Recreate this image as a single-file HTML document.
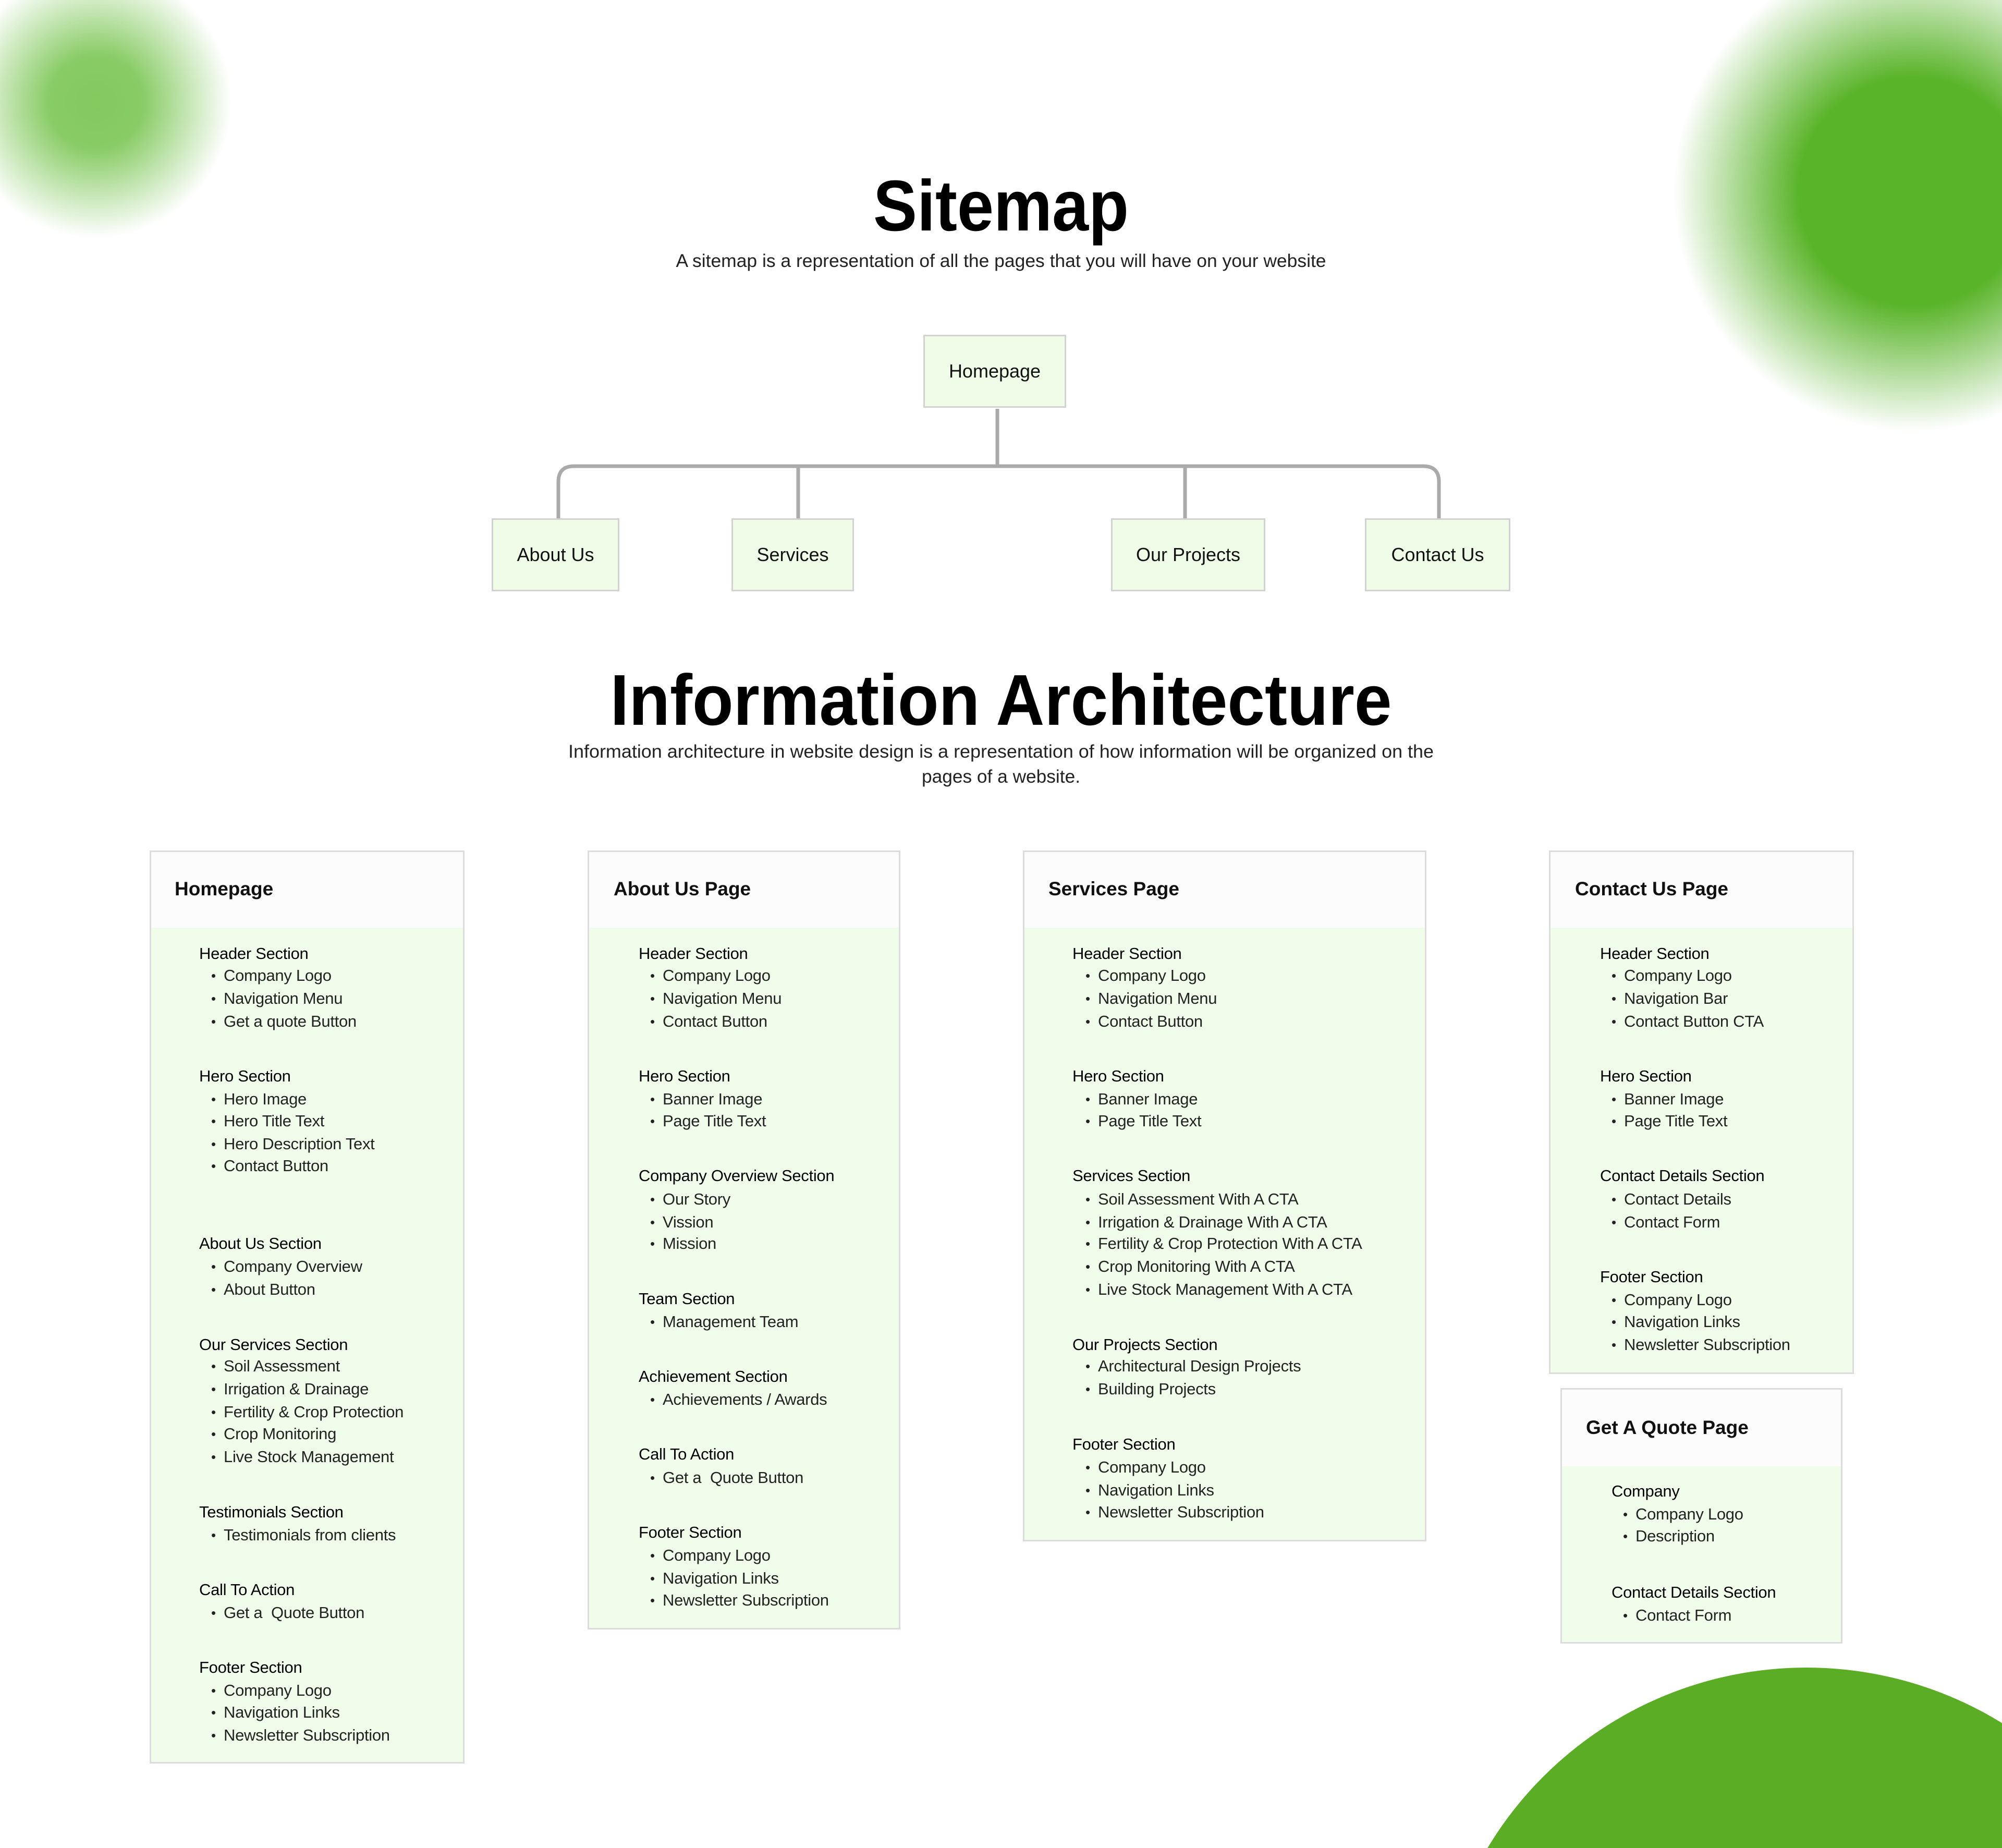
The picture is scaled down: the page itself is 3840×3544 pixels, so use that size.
<!DOCTYPE html>
<html><head><meta charset="utf-8"><style>
*{margin:0;padding:0;box-sizing:border-box}
html,body{width:3840px;height:3544px;overflow:hidden;background:#fff}
#w{width:3840px;height:3544px;position:relative;overflow:hidden;background:#fff;font-family:"Liberation Sans",sans-serif;color:#111}
.a{position:absolute}
.card{position:absolute;border:3px solid #dcdcdc;background:#effdea}
.card .hd{position:absolute;left:0;right:0;top:0;height:145px;background:#fcfcfc}
.tt{position:absolute;font-weight:bold;font-size:37px;line-height:44px;margin-top:-22px;white-space:nowrap}
.l{position:absolute;font-size:31px;line-height:42px;margin-top:-21px;white-space:nowrap;letter-spacing:-0.3px}
.h{color:#000}
.i{color:#222}
.i::before{content:"•";position:absolute;left:-24px;font-size:26px}
.box{position:absolute;background:#effde8;border:3px solid #d2d2d2;display:flex;align-items:center;justify-content:center;font-size:36px;color:#111}
</style></head><body><div id="w">
<div class="a" style="left:0;top:0;width:480px;height:480px;background:radial-gradient(circle at 184px 196px,rgba(124,198,85,.95) 0,rgba(124,198,85,.9) 90px,rgba(124,198,85,0) 260px)"></div>
<div class="a" style="left:3100px;top:0;width:740px;height:900px;background:radial-gradient(circle at 570px 367px,#5ab42a 0,#5ab42a 220px,rgba(90,180,42,0) 460px)"></div>
<svg class="a" style="left:0;top:0" width="3840" height="3544"><circle cx="3465" cy="3912" r="714" fill="#5aad25"/></svg>

<svg class="a" style="left:0;top:0" width="3840" height="1600">
<text x="1920" y="442" text-anchor="middle" font-family="Liberation Sans" font-weight="bold" font-size="138" textLength="490" lengthAdjust="spacingAndGlyphs" fill="#000">Sitemap</text>
<text x="1920" y="512" text-anchor="middle" font-family="Liberation Sans" font-size="35" textLength="1247" lengthAdjust="spacingAndGlyphs" fill="#222">A sitemap is a representation of all the pages that you will have on your website</text>
<text x="1920" y="1390" text-anchor="middle" font-family="Liberation Sans" font-weight="bold" font-size="138" textLength="1499" lengthAdjust="spacingAndGlyphs" fill="#000">Information Architecture</text>
<text x="1920" y="1453" text-anchor="middle" font-family="Liberation Sans" font-size="35" textLength="1660" lengthAdjust="spacingAndGlyphs" fill="#222">Information architecture in website design is a representation of how information will be organized on the</text>
<text x="1920" y="1501" text-anchor="middle" font-family="Liberation Sans" font-size="35" textLength="304" lengthAdjust="spacingAndGlyphs" fill="#222">pages of a website.</text>
<g stroke="#aaaaaa" stroke-width="7" fill="none">
<path d="M1913 784 V894"/>
<path d="M1071 994 V924 Q1071 894 1101 894 H2730 Q2760 894 2760 924 V994"/>
<path d="M1531 894 V994"/>
<path d="M2273 894 V994"/>
</g>
</svg>

<div class="box" style="left:1771px;top:642px;width:274px;height:140px">Homepage</div>
<div class="box" style="left:943px;top:994px;width:245px;height:140px">About Us</div>
<div class="box" style="left:1403px;top:994px;width:235px;height:140px">Services</div>
<div class="box" style="left:2131px;top:994px;width:296px;height:140px">Our Projects</div>
<div class="box" style="left:2618px;top:994px;width:279px;height:140px">Contact Us</div>

<div class="card" style="left:287px;top:1631px;width:604px;height:1751px"><div class="hd"></div></div>
<div class="card" style="left:1127px;top:1631px;width:600px;height:1494px"><div class="hd"></div></div>
<div class="card" style="left:1962px;top:1631px;width:774px;height:1325px"><div class="hd"></div></div>
<div class="card" style="left:2971px;top:1631px;width:585px;height:1004px"><div class="hd"></div></div>
<div class="card" style="left:2993px;top:2662px;width:541px;height:490px"><div class="hd" style="height:147px"></div></div>

<div class="tt" style="left:335px;top:1705px">Homepage</div>
<div class="tt" style="left:1177px;top:1705px">About Us Page</div>
<div class="tt" style="left:2011px;top:1705px">Services Page</div>
<div class="tt" style="left:3021px;top:1705px">Contact Us Page</div>
<div class="tt" style="left:3042px;top:2738px">Get A Quote Page</div>

<div class="l h" style="left:382px;top:1829px">Header Section</div>
<div class="l i" style="left:429px;top:1871px">Company Logo</div>
<div class="l i" style="left:429px;top:1915px">Navigation Menu</div>
<div class="l i" style="left:429px;top:1959px">Get a quote Button</div>
<div class="l h" style="left:382px;top:2064px">Hero Section</div>
<div class="l i" style="left:429px;top:2108px">Hero Image</div>
<div class="l i" style="left:429px;top:2150px">Hero Title Text</div>
<div class="l i" style="left:429px;top:2194px">Hero Description Text</div>
<div class="l i" style="left:429px;top:2236px">Contact Button</div>
<div class="l h" style="left:382px;top:2385px">About Us Section</div>
<div class="l i" style="left:429px;top:2429px">Company Overview</div>
<div class="l i" style="left:429px;top:2473px">About Button</div>
<div class="l h" style="left:382px;top:2579px">Our Services Section</div>
<div class="l i" style="left:429px;top:2620px">Soil Assessment</div>
<div class="l i" style="left:429px;top:2664px">Irrigation &amp; Drainage</div>
<div class="l i" style="left:429px;top:2708px">Fertility &amp; Crop Protection</div>
<div class="l i" style="left:429px;top:2750px">Crop Monitoring</div>
<div class="l i" style="left:429px;top:2794px">Live Stock Management</div>
<div class="l h" style="left:382px;top:2900px">Testimonials Section</div>
<div class="l i" style="left:429px;top:2944px">Testimonials from clients</div>
<div class="l h" style="left:382px;top:3049px">Call To Action</div>
<div class="l i" style="left:429px;top:3093px">Get a &nbsp;Quote Button</div>
<div class="l h" style="left:382px;top:3198px">Footer Section</div>
<div class="l i" style="left:429px;top:3242px">Company Logo</div>
<div class="l i" style="left:429px;top:3284px">Navigation Links</div>
<div class="l i" style="left:429px;top:3328px">Newsletter Subscription</div>

<div class="l h" style="left:1225px;top:1829px">Header Section</div>
<div class="l i" style="left:1271px;top:1871px">Company Logo</div>
<div class="l i" style="left:1271px;top:1915px">Navigation Menu</div>
<div class="l i" style="left:1271px;top:1959px">Contact Button</div>
<div class="l h" style="left:1225px;top:2064px">Hero Section</div>
<div class="l i" style="left:1271px;top:2108px">Banner Image</div>
<div class="l i" style="left:1271px;top:2150px">Page Title Text</div>
<div class="l h" style="left:1225px;top:2255px">Company Overview Section</div>
<div class="l i" style="left:1271px;top:2300px">Our Story</div>
<div class="l i" style="left:1271px;top:2344px">Vission</div>
<div class="l i" style="left:1271px;top:2385px">Mission</div>
<div class="l h" style="left:1225px;top:2491px">Team Section</div>
<div class="l i" style="left:1271px;top:2535px">Management Team</div>
<div class="l h" style="left:1225px;top:2640px">Achievement Section</div>
<div class="l i" style="left:1271px;top:2684px">Achievements / Awards</div>
<div class="l h" style="left:1225px;top:2789px">Call To Action</div>
<div class="l i" style="left:1271px;top:2834px">Get a &nbsp;Quote Button</div>
<div class="l h" style="left:1225px;top:2939px">Footer Section</div>
<div class="l i" style="left:1271px;top:2983px">Company Logo</div>
<div class="l i" style="left:1271px;top:3027px">Navigation Links</div>
<div class="l i" style="left:1271px;top:3069px">Newsletter Subscription</div>

<div class="l h" style="left:2057px;top:1829px">Header Section</div>
<div class="l i" style="left:2106px;top:1871px">Company Logo</div>
<div class="l i" style="left:2106px;top:1915px">Navigation Menu</div>
<div class="l i" style="left:2106px;top:1959px">Contact Button</div>
<div class="l h" style="left:2057px;top:2064px">Hero Section</div>
<div class="l i" style="left:2106px;top:2108px">Banner Image</div>
<div class="l i" style="left:2106px;top:2150px">Page Title Text</div>
<div class="l h" style="left:2057px;top:2255px">Services Section</div>
<div class="l i" style="left:2106px;top:2300px">Soil Assessment With A CTA</div>
<div class="l i" style="left:2106px;top:2344px">Irrigation &amp; Drainage With A CTA</div>
<div class="l i" style="left:2106px;top:2385px">Fertility &amp; Crop Protection With A CTA</div>
<div class="l i" style="left:2106px;top:2429px">Crop Monitoring With A CTA</div>
<div class="l i" style="left:2106px;top:2473px">Live Stock Management With A CTA</div>
<div class="l h" style="left:2057px;top:2579px">Our Projects Section</div>
<div class="l i" style="left:2106px;top:2620px">Architectural Design Projects</div>
<div class="l i" style="left:2106px;top:2664px">Building Projects</div>
<div class="l h" style="left:2057px;top:2770px">Footer Section</div>
<div class="l i" style="left:2106px;top:2814px">Company Logo</div>
<div class="l i" style="left:2106px;top:2858px">Navigation Links</div>
<div class="l i" style="left:2106px;top:2900px">Newsletter Subscription</div>

<div class="l h" style="left:3069px;top:1829px">Header Section</div>
<div class="l i" style="left:3115px;top:1871px">Company Logo</div>
<div class="l i" style="left:3115px;top:1915px">Navigation Bar</div>
<div class="l i" style="left:3115px;top:1959px">Contact Button CTA</div>
<div class="l h" style="left:3069px;top:2064px">Hero Section</div>
<div class="l i" style="left:3115px;top:2108px">Banner Image</div>
<div class="l i" style="left:3115px;top:2150px">Page Title Text</div>
<div class="l h" style="left:3069px;top:2255px">Contact Details Section</div>
<div class="l i" style="left:3115px;top:2300px">Contact Details</div>
<div class="l i" style="left:3115px;top:2344px">Contact Form</div>
<div class="l h" style="left:3069px;top:2449px">Footer Section</div>
<div class="l i" style="left:3115px;top:2493px">Company Logo</div>
<div class="l i" style="left:3115px;top:2535px">Navigation Links</div>
<div class="l i" style="left:3115px;top:2579px">Newsletter Subscription</div>

<div class="l h" style="left:3091px;top:2860px">Company</div>
<div class="l i" style="left:3137px;top:2904px">Company Logo</div>
<div class="l i" style="left:3137px;top:2946px">Description</div>
<div class="l h" style="left:3091px;top:3054px">Contact Details Section</div>
<div class="l i" style="left:3137px;top:3098px">Contact Form</div>
</div></body></html>
